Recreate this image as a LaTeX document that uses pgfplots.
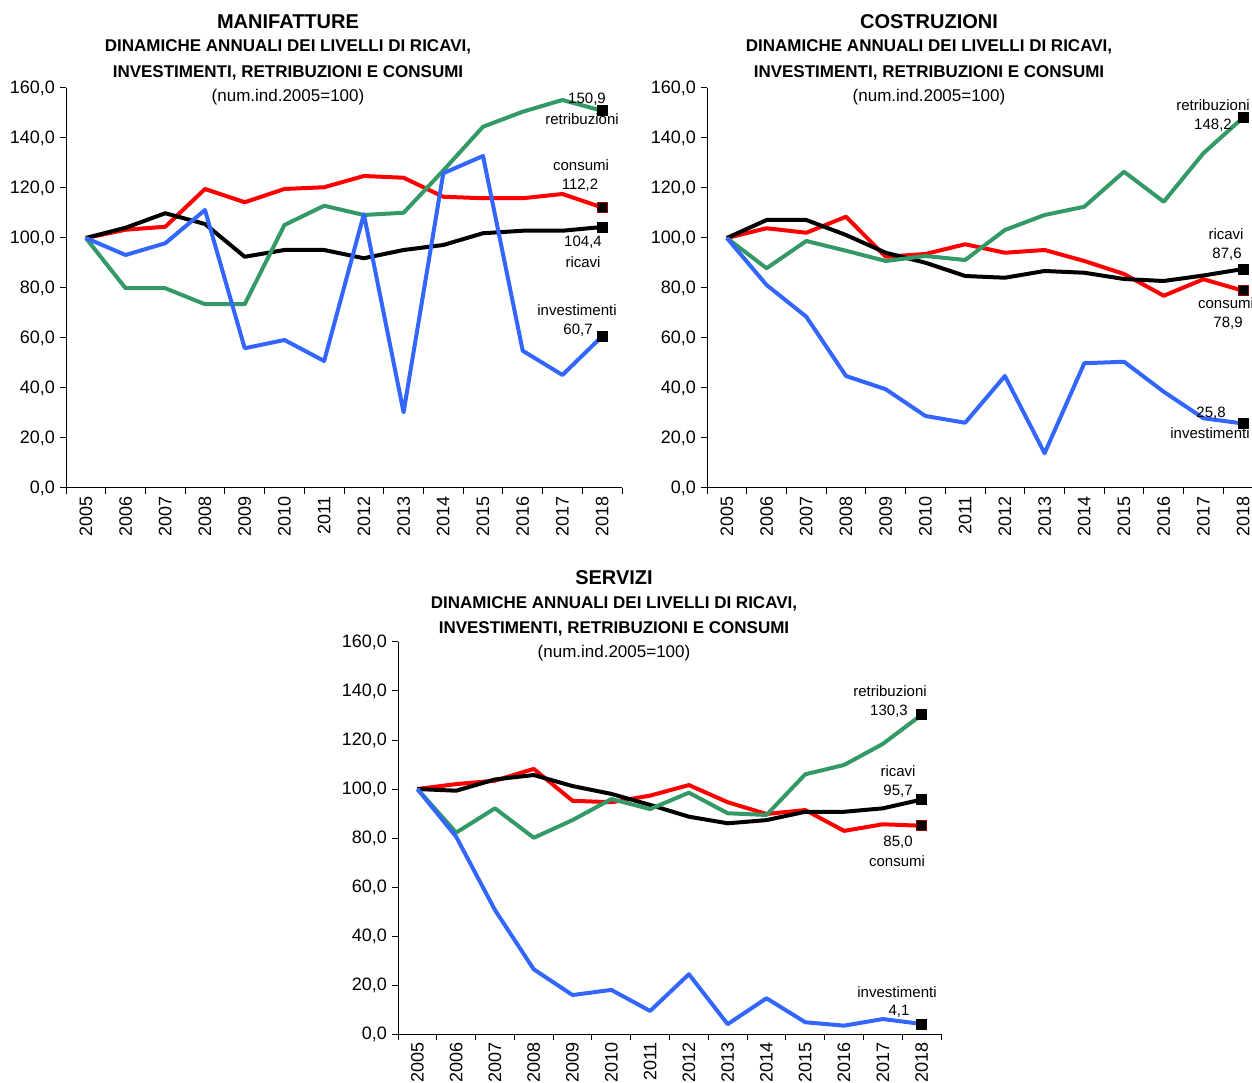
\documentclass[border=0pt]{standalone}
\usepackage{fontspec}
\setmainfont{Liberation Sans}
\usepackage{pgfplots}
\pgfplotsset{compat=1.18}
\definecolor{cgreen}{RGB}{51,153,102}
\definecolor{cred}{RGB}{255,0,0}
\definecolor{cblue}{RGB}{51,102,255}
\pgfplotsset{
 base/.style={
  scale only axis, width=556pt, height=400pt,
  xmin=2004.5, xmax=2018.5, ymin=0, ymax=160,
  axis x line*=bottom, axis y line*=left,
  axis line style={line width=1pt},
  xtick={2005,2006,...,2018}, ytick={0,20,...,160},
  xticklabels={2005,2006,2007,2008,2009,2010,2011,2012,2013,2014,2015,2016,2017,2018},
  minor xtick={2004.5,2005.5,...,2018.5},
  minor ytick={0,20,...,160},
  major tick length=0pt, minor tick length=6pt,
  tick align=outside, tick style={line width=1pt, black},
  xticklabel style={rotate=90, anchor=east, font=\fontsize{18}{18}\selectfont, inner sep=0pt, xshift=-8pt},
  yticklabel style={font=\fontsize{18}{18}\selectfont, inner sep=0pt, xshift=-11pt, /pgf/number format/.cd, fixed, fixed zerofill, precision=1, use comma, assume math mode=true},
  scaled y ticks=false,
  clip=false,
  every axis plot/.append style={line width=4pt, line join=round, mark indices={14}, mark=square*, mark size=5pt, mark options={fill=black,draw=black,line width=0.6pt}},
 },
 cons/.style={color=cred, mark options={fill=black,draw=red!55!black,line width=0.6pt}},
}
\tikzset{lab/.style={font=\fontsize{15}{15}\selectfont, inner sep=0pt}}
\begin{document}
\begin{tikzpicture}
% ---------------- MANIFATTURE
\begin{axis}[base, at={(66pt,594pt)}, anchor=south west]
\addplot[cons] coordinates {(2005,100) (2006,103.3) (2007,104.5) (2008,119.6) (2009,114.3) (2010,119.6) (2011,120.3) (2012,124.8) (2013,124.1) (2014,116.5) (2015,115.9) (2016,115.9) (2017,117.6) (2018,112.2)};
\addplot[color=black] coordinates {(2005,100) (2006,104.1) (2007,109.9) (2008,105.6) (2009,92.5) (2010,95.2) (2011,95.2) (2012,91.9) (2013,95.2) (2014,97.2) (2015,101.9) (2016,102.9) (2017,102.9) (2018,104.4)};
\addplot[color=cgreen] coordinates {(2005,100) (2006,79.9) (2007,79.9) (2008,73.5) (2009,73.5) (2010,105.2) (2011,112.9) (2012,109.2) (2013,110.1) (2014,127) (2015,144.5) (2016,150.5) (2017,155.2) (2018,150.9)};
\addplot[color=cblue] coordinates {(2005,100) (2006,93.2) (2007,97.9) (2008,111.2) (2009,55.9) (2010,59.2) (2011,50.8) (2012,109.5) (2013,30.3) (2014,125.9) (2015,132.8) (2016,54.9) (2017,45.2) (2018,60.7)};
\end{axis}
% ---------------- COSTRUZIONI
\begin{axis}[base, at={(707pt,594pt)}, anchor=south west]
\addplot[cons] coordinates {(2005,100) (2006,103.9) (2007,102.1) (2008,108.5) (2009,92.5) (2010,93.6) (2011,97.5) (2012,94.1) (2013,95.2) (2014,90.8) (2015,85.6) (2016,76.9) (2017,83.5) (2018,78.9)};
\addplot[color=black] coordinates {(2005,100) (2006,107.2) (2007,107.2) (2008,101.2) (2009,94.1) (2010,90.1) (2011,84.8) (2012,84.1) (2013,86.8) (2014,86.1) (2015,83.6) (2016,82.8) (2017,85.0) (2018,87.6)};
\addplot[color=cgreen] coordinates {(2005,100) (2006,87.9) (2007,98.8) (2008,94.9) (2009,90.8) (2010,92.8) (2011,91.2) (2012,103.2) (2013,109.2) (2014,112.5) (2015,126.5) (2016,114.5) (2017,133.9) (2018,148.2)};
\addplot[color=cblue] coordinates {(2005,100) (2006,81.2) (2007,68.5) (2008,44.8) (2009,39.5) (2010,28.8) (2011,26.1) (2012,44.8) (2013,13.9) (2014,49.9) (2015,50.5) (2016,38.5) (2017,27.9) (2018,25.8)};
\end{axis}
% ---------------- SERVIZI
\begin{axis}[base, width=543pt, height=392pt, at={(398pt,48pt)}, anchor=south west]
\addplot[cons] coordinates {(2005,100) (2006,102.0) (2007,103.4) (2008,108.2) (2009,95.2) (2010,94.6) (2011,97.3) (2012,101.6) (2013,94.6) (2014,89.8) (2015,91.4) (2016,82.9) (2017,85.6) (2018,85.0)};
\addplot[color=black] coordinates {(2005,100) (2006,99.3) (2007,103.9) (2008,105.7) (2009,101.2) (2010,98.0) (2011,93.5) (2012,88.7) (2013,86.0) (2014,87.3) (2015,90.7) (2016,90.7) (2017,92.1) (2018,95.7)};
\addplot[color=cgreen] coordinates {(2005,100) (2006,82.2) (2007,92.1) (2008,80.1) (2009,87.3) (2010,95.9) (2011,91.8) (2012,98.5) (2013,90.1) (2014,89.4) (2015,106.0) (2016,109.8) (2017,118.4) (2018,130.3)};
\addplot[color=cblue] coordinates {(2005,100) (2006,80.5) (2007,50.6) (2008,26.4) (2009,15.9) (2010,18.0) (2011,9.4) (2012,24.4) (2013,4.0) (2014,14.6) (2015,4.8) (2016,3.4) (2017,6.1) (2018,4.1)};
\end{axis}
% ---------------- titles
\foreach \cx/\ttl in {288/MANIFATTURE, 929/COSTRUZIONI} {
 \node[font=\bfseries\fontsize{20}{20}\selectfont] at (\cx pt,1060pt) {\ttl};
 \node[font=\bfseries\fontsize{17}{17}\selectfont] at (\cx pt,1035pt) {DINAMICHE ANNUALI DEI LIVELLI DI RICAVI,};
 \node[font=\bfseries\fontsize{17}{17}\selectfont] at (\cx pt,1009pt) {INVESTIMENTI, RETRIBUZIONI E CONSUMI};
 \node[font=\fontsize{17}{17}\selectfont] at (\cx pt,985pt) {(num.ind.2005=100)};
}
\node[font=\bfseries\fontsize{20}{20}\selectfont] at (614pt,504pt) {SERVIZI};
\node[font=\bfseries\fontsize{17}{17}\selectfont] at (614pt,478pt) {DINAMICHE ANNUALI DEI LIVELLI DI RICAVI,};
\node[font=\bfseries\fontsize{17}{17}\selectfont] at (614pt,453pt) {INVESTIMENTI, RETRIBUZIONI E CONSUMI};
\node[font=\fontsize{17}{17}\selectfont] at (614pt,429pt) {(num.ind.2005=100)};
% ---------------- end labels
\node[lab] at (587pt,983pt) {150,9};
\node[lab] at (582pt,963pt) {retribuzioni};
\node[lab] at (581pt,917pt) {consumi};
\node[lab] at (580pt,897pt) {112,2};
\node[lab] at (583pt,840pt) {104,4};
\node[lab] at (583pt,820pt) {ricavi};
\node[lab] at (577pt,772pt) {investimenti};
\node[lab] at (578pt,752pt) {60,7};
\node[lab] at (1213pt,977pt) {retribuzioni};
\node[lab] at (1213pt,957pt) {148,2};
\node[lab] at (1226pt,848pt) {ricavi};
\node[lab] at (1227pt,828pt) {87,6};
\node[lab] at (1226pt,779pt) {consumi};
\node[lab] at (1228pt,759pt) {78,9};
\node[lab] at (1211pt,669pt) {25,8};
\node[lab] at (1210pt,649pt) {investimenti};
\node[lab] at (890pt,391pt) {retribuzioni};
\node[lab] at (889pt,371pt) {130,3};
\node[lab] at (898pt,311pt) {ricavi};
\node[lab] at (898pt,291pt) {95,7};
\node[lab] at (898pt,240pt) {85,0};
\node[lab] at (897pt,221pt) {consumi};
\node[lab] at (897pt,90pt) {investimenti};
\node[lab] at (899pt,71pt) {4,1};
\pgfresetboundingbox
\useasboundingbox (0pt,0pt) rectangle (1252pt,1082pt);
\end{tikzpicture}
\end{document}
